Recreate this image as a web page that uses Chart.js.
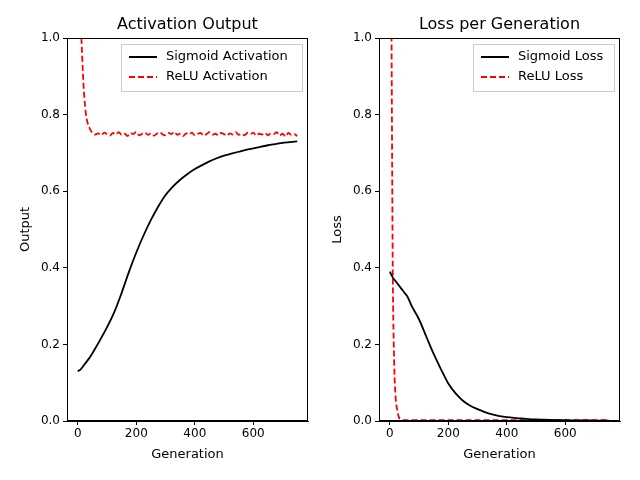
<!DOCTYPE html>
<html>
<head>
<meta charset="utf-8">
<script src="https://cdn.jsdelivr.net/npm/chart.js@4/dist/chart.umd.min.js"></script>
<style>
  body { margin: 0; background: #fff; }
  .box { position: absolute; top: 0; width: 320px; height: 480px; }
</style>
</head>
<body>
<div class="box" style="left:0"><canvas id="actChart" width="320" height="480"></canvas></div>
<div class="box" style="left:312px"><canvas id="lossChart" width="320" height="480"></canvas></div>
<script>
// generations for the sigmoid curves
var sigGens = [0,10,20,30,40,50,60,75,100,125,150,175,200,225,250,275,300,325,350,375,400,425,450,475,500,525,550,575,600,625,650,675,700,725,750];
var sigAct = [0.13,0.135,0.145,0.155,0.165,0.177,0.19,0.21,0.245,0.285,0.335,0.39,0.44,0.485,0.525,0.56,0.59,0.612,0.63,0.645,0.658,0.668,0.678,0.686,0.693,0.698,0.703,0.708,0.712,0.716,0.72,0.723,0.726,0.728,0.73];
var sigLoss = [0.39,0.375,0.365,0.355,0.345,0.335,0.325,0.3,0.265,0.22,0.175,0.135,0.098,0.072,0.053,0.04,0.031,0.023,0.017,0.013,0.01,0.008,0.0065,0.005,0.004,0.0035,0.003,0.0025,0.002,0.0018,0.0015,0.0013,0.0012,0.001,0.001];

// generations for the relu curves
var reluGens = [0,5,10,15,20,25,30,40,50,60,70,80,90,100,110,120,130,140,150,160,170,180,190,200,210,220,230,240,250,260,270,280,290,300,310,320,330,340,350,360,370,380,390,400,410,420,430,440,450,460,470,480,490,500,510,520,530,540,550,560,570,580,590,600,610,620,630,640,650,660,670,680,690,700,710,720,730,740,750];
var reluAct = [1.4,1.2,1.05,0.95,0.87,0.82,0.79,0.765,0.752,0.748,0.751,0.746,0.753,0.749,0.745,0.752,0.748,0.754,0.747,0.75,0.744,0.752,0.749,0.755,0.746,0.75,0.753,0.747,0.751,0.745,0.75,0.754,0.748,0.746,0.752,0.749,0.755,0.747,0.75,0.744,0.751,0.748,0.753,0.746,0.75,0.752,0.745,0.749,0.754,0.747,0.75,0.746,0.752,0.749,0.745,0.751,0.748,0.754,0.747,0.75,0.746,0.752,0.749,0.753,0.745,0.75,0.748,0.752,0.746,0.751,0.749,0.754,0.745,0.75,0.743,0.752,0.747,0.749,0.744];
var reluLoss = [1.5,1.1,0.4,0.15,0.06,0.03,0.012,0.003,0.002,0.002,0.002,0.002,0.002,0.002,0.002,0.002,0.002,0.002,0.002,0.002,0.002,0.002,0.002,0.002,0.002,0.002,0.002,0.002,0.002,0.002,0.002,0.002,0.002,0.002,0.002,0.002,0.002,0.002,0.002,0.002,0.002,0.002,0.002,0.002,0.002,0.002,0.002,0.002,0.002,0.002,0.002,0.002,0.002,0.002,0.002,0.002,0.002,0.002,0.002,0.002,0.002,0.002,0.002,0.002,0.002,0.002,0.002,0.002,0.002,0.002,0.002,0.002,0.002,0.002,0.002,0.002,0.002,0.002,0.002];

var xTicks = [0,200,400,600];
var yTicks = [0,0.2,0.4,0.6,0.8,1.0];

var FONT = 'DejaVu Sans';

function pts(xs, ys) {
    return xs.map(function (x, i) { return { x: x, y: ys[i] }; });
}

// frame, title and legend drawn like matplotlib
var decorPlugin = {
    id: 'decor',
    afterDraw: function (chart, args, opts) {
        var c = chart.ctx, a = chart.chartArea;
        c.save();
        c.strokeStyle = '#000';
        c.lineWidth = 1;
        c.strokeRect(a.left + 0.5, a.top + 0.5, a.right - a.left - 1, a.bottom - a.top - 1);
        c.fillStyle = '#000';
        c.font = '16px ' + FONT;
        c.textAlign = 'center';
        c.textBaseline = 'alphabetic';
        c.fillText(opts.title, (a.left + a.right) / 2, a.top - 9);

        // legend box
        var w = opts.legendWidth, h = 47;
        var lx = a.right - 6 - w, ly = a.top + 6;
        c.fillStyle = 'rgba(255,255,255,0.8)';
        c.strokeStyle = '#ccc';
        c.beginPath();
        c.rect(lx + 0.5, ly + 0.5, w, h);
        c.fill();
        c.stroke();
        c.font = '13px ' + FONT;
        c.textAlign = 'left';
        c.textBaseline = 'middle';
        chart.data.datasets.forEach(function (ds, i) {
            var y = ly + 13 + i * 20;
            c.strokeStyle = ds.borderColor;
            c.lineWidth = 2;
            c.setLineDash(ds.borderDash || []);
            c.beginPath();
            c.moveTo(lx + 8, y);
            c.lineTo(lx + 36, y);
            c.stroke();
            c.setLineDash([]);
            c.fillStyle = '#000';
            c.fillText(ds.label, lx + 45, y);
        });
        c.restore();
    }
};

function makeChart(id, title, yTitle, sets, legendWidth) {
    var ctx = document.getElementById(id).getContext('2d');
    return new Chart(ctx, {
        type: 'line',
        data: {
            datasets: sets.map(function (s) {
                return {
                    label: s.label,
                    data: pts(s.x, s.y),
                    borderColor: s.color,
                    borderDash: s.dash,
                    borderWidth: 1.8,
                    pointRadius: 0,
                    cubicInterpolationMode: 'monotone',
                    fill: false
                };
            })
        },
        options: {
            animation: false,
            responsive: false,
            layout: { padding: { top: 38, right: 12, left: 14, bottom: 14 } },
            plugins: {
                legend: { display: false },
                tooltip: { enabled: false },
                decor: { title: title, legendWidth: legendWidth }
            },
            scales: {
                x: {
                    type: 'linear',
                    min: -37,
                    max: 787,
                    afterBuildTicks: function (s) { s.ticks = xTicks.map(function (v) { return { value: v }; }); },
                    afterFit: function (s) { s.height = 45; },
                    grid: { drawOnChartArea: false, color: '#000', tickLength: 4 },
                    border: { color: '#000' },
                    ticks: { color: '#000', font: { family: FONT, size: 12 }, padding: 2, maxRotation: 0 },
                    title: { display: true, text: 'Generation', color: '#000', font: { family: FONT, size: 13 }, padding: { top: 0 } }
                },
                y: {
                    min: 0,
                    max: 1,
                    afterBuildTicks: function (s) { s.ticks = yTicks.map(function (v) { return { value: v }; }); },
                    afterFit: function (s) { s.width = 53; },
                    grid: { drawOnChartArea: false, color: '#000', tickLength: 4 },
                    border: { color: '#000' },
                    ticks: { color: '#000', font: { family: FONT, size: 12 }, padding: 3, callback: function (v) { return v.toFixed(1); } },
                    title: { display: true, text: yTitle, color: '#000', font: { family: FONT, size: 13 }, padding: { bottom: 0 } }
                }
            }
        },
        plugins: [decorPlugin]
    });
}

makeChart('actChart', 'Activation Output', 'Output', [
    { label: 'Sigmoid Activation', x: sigGens, y: sigAct, color: '#000' },
    { label: 'ReLU Activation', x: reluGens, y: reluAct, color: '#ff0000', dash: [6, 3] }
], 181);

makeChart('lossChart', 'Loss per Generation', 'Loss', [
    { label: 'Sigmoid Loss', x: sigGens, y: sigLoss, color: '#000' },
    { label: 'ReLU Loss', x: reluGens, y: reluLoss, color: '#ff0000', dash: [6, 3] }
], 141);
</script>
</body>
</html>
